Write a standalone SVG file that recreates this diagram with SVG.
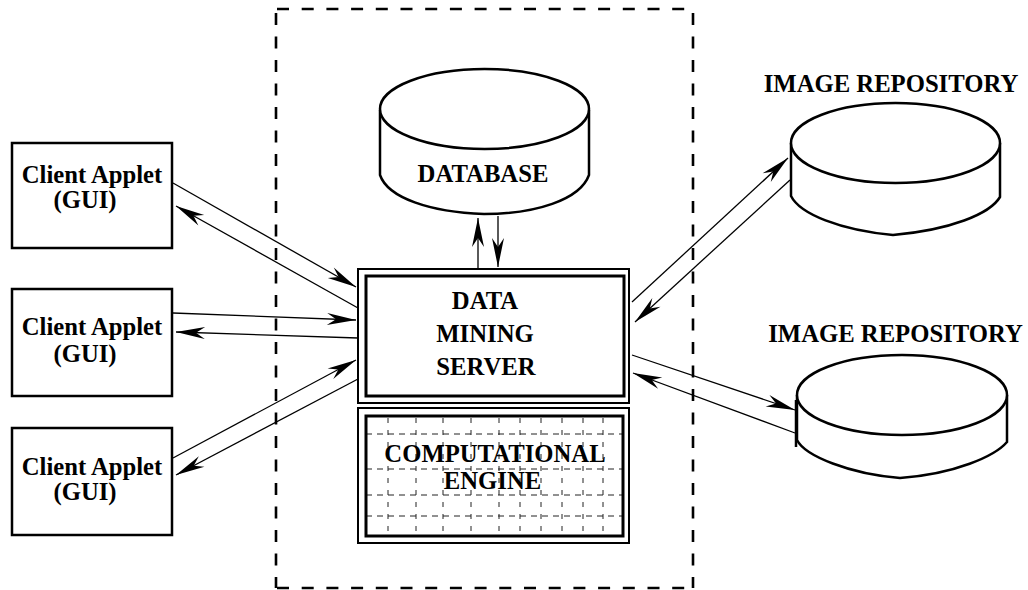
<svg xmlns="http://www.w3.org/2000/svg" width="1028" height="590" viewBox="0 0 1028 590">
<style>
.t{font-family:"Liberation Serif","Times New Roman",serif;font-weight:bold;font-size:24.7px;fill:#000;text-anchor:middle}
.box{fill:#fff;stroke:#000;stroke-width:2.5}
.cyl{fill:#fff;stroke:#000;stroke-width:2.5}
.c{stroke:#000;stroke-width:1.3;fill:none;marker-end:url(#ah)}
.dh{stroke:#000;stroke-width:2.6;stroke-dasharray:12 12.7;fill:none}
.dv{stroke:#000;stroke-width:2.6;stroke-dasharray:12 11.5;fill:none}
.g{stroke:#222;stroke-width:1;stroke-dasharray:6 5;fill:none}
.gv{stroke:#222;stroke-width:1;stroke-dasharray:5 7;fill:none}
</style>
<defs>
<marker id="ah" markerUnits="userSpaceOnUse" viewBox="-31 -7 32 14" refX="0" refY="0" markerWidth="32" markerHeight="14" orient="auto">
<path d="M0,0 L-29,-6 L-20,0 L-29,6 Z" fill="#000"/>
</marker>
</defs>
<rect width="1028" height="590" fill="#fff"/>
<g id="boundary">
<line class="dh" x1="277" y1="9" x2="694" y2="9"/>
<line class="dh" x1="277" y1="588" x2="694" y2="588"/>
<line class="dv" x1="276" y1="13" x2="276" y2="588"/>
<line class="dv" x1="693" y1="13" x2="693" y2="588"/>
</g>
<g id="database">
<path class="cyl" d="M380,110 L380,175 C388,198 430,212 484,214 C535,214 580,200 589,175 L589,110"/>
<ellipse class="cyl" cx="484.5" cy="109" rx="104.5" ry="40"/>
<text class="t" x="483" y="182">DATABASE</text>
</g>
<g id="repo1">
<path class="cyl" d="M791,143 L791,196 C800,214 840,230 893,235 C950,230 990,214 1000,197 L1000,143"/>
<ellipse class="cyl" cx="895.5" cy="143" rx="104.5" ry="40"/>
<text class="t" x="891" y="92">IMAGE REPOSITORY</text>
</g>
<g id="repo2">
<path class="cyl" d="M797,395 L797,440 C805,456 850,474 900,478 C955,474 995,456 1007,442 L1007,395"/>
<ellipse class="cyl" cx="902" cy="395" rx="105" ry="40"/>
<line x1="796" y1="400" x2="796" y2="447" stroke="#000" stroke-width="2.5"/>
<text class="t" x="895.5" y="342">IMAGE REPOSITORY</text>
</g>
<g id="client1">
<rect class="box" x="12" y="143" width="160" height="105"/>
<text class="t" x="92" y="183">Client Applet</text>
<text class="t" x="85" y="208">(GUI)</text>
</g>
<g id="client2">
<rect class="box" x="12" y="289" width="160" height="107"/>
<text class="t" x="92" y="335">Client Applet</text>
<text class="t" x="85" y="362">(GUI)</text>
</g>
<g id="client3">
<rect class="box" x="12" y="428" width="160" height="107"/>
<text class="t" x="92" y="475">Client Applet</text>
<text class="t" x="85" y="500">(GUI)</text>
</g>
<g id="server">
<rect x="358" y="269" width="271" height="134" fill="#fff" stroke="#000" stroke-width="2"/>
<rect x="366" y="276" width="258" height="120" fill="none" stroke="#000" stroke-width="3"/>
<text class="t" x="485" y="309">DATA</text>
<text class="t" x="485" y="342">MINING</text>
<text class="t" x="486" y="375">SERVER</text>
</g>
<g id="engine">
<rect x="358" y="408" width="271" height="135" fill="#fff" stroke="#000" stroke-width="2"/>
<g>
<line class="g" x1="366" y1="434" x2="623" y2="434"/>
<line class="g" x1="366" y1="469" x2="623" y2="469"/>
<line class="g" x1="366" y1="495" x2="623" y2="495"/>
<line class="g" x1="366" y1="516" x2="623" y2="516"/>
<line class="gv" x1="388" y1="418" x2="388" y2="534"/>
<line class="gv" x1="416" y1="418" x2="416" y2="534"/>
<line class="gv" x1="443" y1="418" x2="443" y2="534"/>
<line class="gv" x1="471" y1="418" x2="471" y2="534"/>
<line class="gv" x1="499" y1="418" x2="499" y2="534"/>
<line class="gv" x1="520" y1="418" x2="520" y2="534"/>
<line class="gv" x1="541" y1="418" x2="541" y2="534"/>
<line class="gv" x1="562" y1="418" x2="562" y2="534"/>
<line class="gv" x1="583" y1="418" x2="583" y2="534"/>
<line class="gv" x1="603" y1="418" x2="603" y2="534"/>
</g>
<rect x="366" y="416" width="257" height="120" fill="none" stroke="#000" stroke-width="3"/>
<text class="t" x="495" y="462">COMPUTATIONAL</text>
<text class="t" x="492.5" y="489">ENGINE</text>
</g>
<g id="connectors">
<line class="c" x1="478" y1="268" x2="478" y2="218"/>
<line class="c" x1="498" y1="216" x2="498" y2="267"/>
<line class="c" x1="173" y1="183" x2="356" y2="287"/>
<line class="c" x1="358" y1="308" x2="176" y2="206"/>
<line class="c" x1="173" y1="313" x2="356" y2="320"/>
<line class="c" x1="358" y1="338" x2="176" y2="332"/>
<line class="c" x1="173" y1="458" x2="356" y2="360"/>
<line class="c" x1="358" y1="379" x2="176" y2="475"/>
<line class="c" x1="632" y1="302" x2="788" y2="158"/>
<line class="c" x1="790" y1="180" x2="635" y2="322"/>
<line class="c" x1="632" y1="355" x2="795" y2="410"/>
<line class="c" x1="795" y1="433" x2="633" y2="373"/>
</g>
</svg>
